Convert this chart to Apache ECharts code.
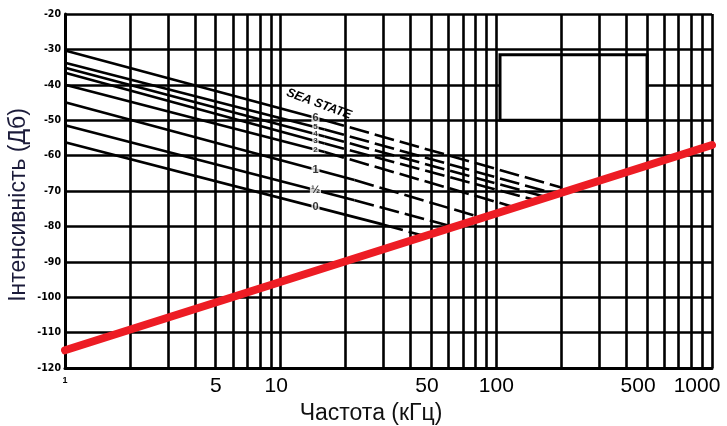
<!DOCTYPE html>
<html>
<head>
<meta charset="utf-8">
<script src="https://cdn.jsdelivr.net/npm/echarts@6/dist/echarts.min.js"></script>
<style>
html,body{margin:0;padding:0;background:#fff;}
#c{width:727px;height:426px;}
</style>
</head>
<body>
<div id="c"></div>
<script>
// ---- data ----
const seaStates = ['6', '5', '4', '3', '2', '1', '½', '0'];
const startFreq = 1;
const startLevel = [-30.3, -33.8, -35.2, -36.6, -40, -44.9, -51.4, -56.2];
const breakFreq = [16, 16, 16, 16, 16, 22, 22, 30];
const breakLevel = [-50.0, -52.6, -54.6, -56.6, -59.0, -66.9, -72.6, -79.5];
const endFreq = [200, 180, 165, 150, 120, 85, 62, 45];
const endLevel = [-69, -70.5, -71.5, -72.5, -74.5, -77.5, -80, -82.5];
const labelFreq = 14.5;
const labelLevel = [-49.4, -51.9, -53.9, -55.9, -58.4, -64, -69.7, -74.5];
const labelBig = [true, false, false, false, false, true, true, true];
const thermalFreq = [1, 1000];
const thermalLevel = [-115, -57];
const boxFreq = [104, 500];
const boxLevel = [-31.5, -50];
const xTickLabels = [1, 5, 10, 50, 100, 500, 1000];
const gridFreqs = [];
[1, 10, 100].forEach(d => { for (let m = 1; m <= 9; m++) gridFreqs.push(m * d); });
gridFreqs.push(1000);

const chart = echarts.init(document.getElementById('c'));
const black = '#000';
const series = [];

// vertical grid lines through the log scale
series.push({
  type: 'line', data: [[1, -120]], symbol: 'none', lineStyle: {width: 0}, z: 1, silent: true,
  markLine: {
    silent: true, symbol: ['none', 'none'], animation: false,
    label: {show: false},
    lineStyle: {color: black, width: 2.6, type: 'solid'},
    data: gridFreqs.map(f => ({xAxis: f}))
  }
});
// blank box
series.push({
  type: 'line', data: [[1, -120]], symbol: 'none', lineStyle: {width: 0}, z: 2, silent: true,
  markArea: {
    silent: true, animation: false,
    itemStyle: {color: '#fff', borderColor: black, borderWidth: 3},
    data: [[{coord: [boxFreq[0], boxLevel[0]]}, {coord: [boxFreq[1], boxLevel[1]]}]]
  }
});
seaStates.forEach((s, i) => {
  series.push({
    type: 'line', z: 3, symbol: 'none', silent: true,
    lineStyle: {color: black, width: 2.6},
    data: [[startFreq, startLevel[i]], [breakFreq[i], breakLevel[i]]]
  });
  series.push({
    type: 'line', z: 3, symbol: 'none', silent: true,
    lineStyle: {color: black, width: 2.6, type: [20, 6]},
    data: [[breakFreq[i], breakLevel[i]], [endFreq[i], endLevel[i]]]
  });
});
series.push({
  type: 'line', z: 5, symbol: 'none', silent: true,
  lineStyle: {color: '#ed1c24', width: 8, cap: 'round'},
  data: thermalFreq.map((f, i) => [f, thermalLevel[i]])
});
series.push({
  type: 'scatter', z: 6, symbolSize: 0, silent: true,
  data: seaStates.map((s, i) => ({
    value: [labelFreq, labelLevel[i]], name: s,
    label: {fontSize: labelBig[i] ? 11 : 8}
  })),
  label: {
    show: true, position: 'inside', formatter: p => p.name,
    fontWeight: 'bold', color: black, fontFamily: 'Liberation Sans',
    backgroundColor: '#fff', padding: [0, 1]
  }
});

const labelStyleKey = {1: 's', 5: 'a', 10: 'b', 50: 'b', 100: 'a', 500: 'c', 1000: 'd'};
const baseLbl = {fontSize: 21, color: black, fontFamily: 'Liberation Sans'};

chart.setOption({
  animation: false,
  backgroundColor: '#fff',
  grid: {left: 65, right: 15, top: 14, bottom: 58, containLabel: false},
  xAxis: {
    type: 'log', logBase: 10, min: 1, max: 1000,
    axisLine: {show: true, lineStyle: {color: black, width: 3}},
    axisTick: {show: false},
    splitLine: {show: false},
    axisLabel: {
      customValues: xTickLabels,
      fontSize: 21, color: black, fontFamily: 'Liberation Sans', margin: 8,
      formatter: v => '{' + (labelStyleKey[v] || 'a') + '|' + v + '}',
      rich: {
        s: {fontSize: 9, color: black, fontWeight: 'bold', padding: [0, 0, 14, 0]},
        a: Object.assign({}, baseLbl),
        b: Object.assign({padding: [0, 9, 0, 0]}, baseLbl),
        c: Object.assign({padding: [0, 18, 0, 0]}, baseLbl),
        d: Object.assign({padding: [0, 30, 0, 0]}, baseLbl)
      }
    }
  },
  yAxis: {
    type: 'value', min: -120, max: -20, interval: 10,
    axisLine: {show: true, lineStyle: {color: black, width: 3}},
    axisTick: {show: false},
    splitLine: {show: true, lineStyle: {color: black, width: 2.6}},
    axisLabel: {fontSize: 10.5, fontWeight: 'bold', color: black, fontFamily: 'DejaVu Sans Condensed', margin: 4}
  },
  graphic: [
    {type: 'text', x: 371, y: 414, style: {text: 'Частота (кГц)', fontSize: 23, fill: '#111', fontFamily: 'Liberation Sans', textAlign: 'center', textVerticalAlign: 'middle'}},
    {type: 'text', x: 19, y: 205, rotation: Math.PI / 2, style: {text: 'Інтенсивність (Дб)', fontSize: 23, fill: '#1b1b3a', fontFamily: 'Liberation Sans', textAlign: 'center', textVerticalAlign: 'middle'}},
    {type: 'text', x: 319, y: 104, rotation: -0.35, style: {text: 'SEA STATE', fontSize: 12.5, fontWeight: 'bold', fontStyle: 'italic', fill: black, fontFamily: 'Liberation Sans', textAlign: 'center', textVerticalAlign: 'middle'}}
  ],
  series: series
});
</script>
</body>
</html>
